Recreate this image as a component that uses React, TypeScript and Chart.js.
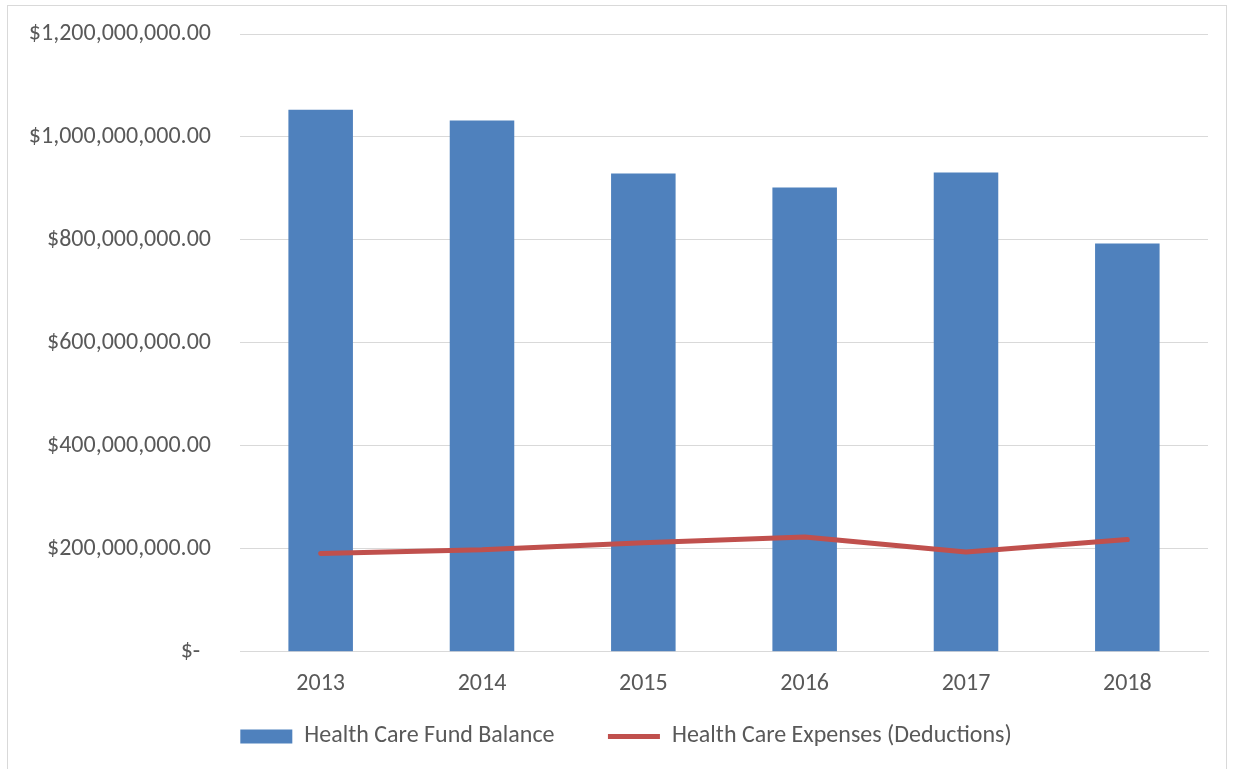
import React, { useEffect, useRef } from "react";
import { Chart, registerables } from "chart.js";

Chart.register(...registerables);

const years = ["2013", "2014", "2015", "2016", "2017", "2018"];
const fundBalance = [1053000000, 1032000000, 929000000, 902000000, 931000000, 793000000];
const expenses = [191000000, 198000000, 212000000, 223000000, 194000000, 218000000];
const yTicks = [0, 200000000, 400000000, 600000000, 800000000, 1000000000, 1200000000];

const FONT = "Carlito, Calibri, Lato, 'Open Sans', sans-serif";
const TEXT = "#595959";
const FS = 24;

function fmt(v: number): string {
  if (v === 0) return "$-  ";
  return "$" + v.toLocaleString("en-US", { minimumFractionDigits: 2, maximumFractionDigits: 2 });
}

export default function App() {
  const ref = useRef<HTMLCanvasElement | null>(null);
  useEffect(() => {
    document.body.style.margin = "0";
    const ctx = ref.current!.getContext("2d")!;
    const chart = new Chart(ctx, {
      type: "bar",
      data: {
        labels: years,
        datasets: [
          {
            type: "bar",
            label: "Health Care Fund Balance",
            data: fundBalance,
            backgroundColor: "#4F81BD",
            borderWidth: 0,
            categoryPercentage: 1,
            barPercentage: 0.4,
            pointStyle: "rect",
            order: 1,
          } as any,
          {
            type: "line",
            label: "Health Care Expenses (Deductions)",
            data: expenses,
            borderColor: "#C0504D",
            backgroundColor: "#C0504D",
            borderWidth: 5,
            borderCapStyle: "round",
            borderJoinStyle: "round",
            tension: 0,
            pointRadius: 0,
            pointStyle: "line",
            order: 0,
          } as any,
        ],
      },
      options: {
        responsive: false,
        animation: false,
        devicePixelRatio: 1,
        layout: { padding: { left: 44, right: 25, top: 34, bottom: 10.6 } },
        plugins: {
          tooltip: { enabled: false },
          legend: {
            position: "bottom",
            labels: {
              color: TEXT,
              font: { family: FONT, size: FS },
              usePointStyle: true,
              pointStyleWidth: 52,
              boxHeight: 14,
              boxWidth: 52,
              padding: 10,
              sort: (a: any, b: any) => a.datasetIndex - b.datasetIndex,
              generateLabels: (c: any) => {
                const items = (Chart.defaults.plugins.legend.labels as any).generateLabels(c);
                items.forEach((it: any) => {
                  if (it.datasetIndex === 0) it.text = it.text + "        ";
                });
                return items;
              },
            },
          },
        },
        scales: {
          x: {
            grid: { display: false, drawTicks: false },
            border: { display: true, color: "#D9D9D9", width: 1 },
            ticks: { color: TEXT, font: { family: FONT, size: FS }, padding: 18 },
            afterFit: (s: any) => { s.height = 62.6; },
          },
          y: {
            min: 0,
            max: 1200000000,
            afterBuildTicks: (s: any) => { s.ticks = yTicks.map((v) => ({ value: v })); },
            grid: { color: "#D9D9D9", lineWidth: 1, drawTicks: false },
            border: { display: false },
            ticks: {
              color: TEXT,
              font: { family: FONT, size: FS },
              padding: 29,
              callback: (v: any) => fmt(Number(v)),
            },
            afterFit: (s: any) => {
              s.width = 196;
              s.paddingTop = 0;
              s.paddingBottom = 0;
              s._computeLabelArea = () => undefined;
            },
          },
        },
      },
    });
    return () => chart.destroy();
  }, []);
  return (
    <div style={{ position: "relative", width: 1233, height: 769, overflow: "hidden", background: "#fff" }}>
      <div style={{ position: "absolute", left: 7, top: 5, width: 1220, height: 800, border: "1px solid #D9D9D9", boxSizing: "border-box" }} />
      <canvas ref={ref} width={1233} height={769} style={{ position: "absolute", left: 0, top: 0, width: 1233, height: 769 }} />
    </div>
  );
}
